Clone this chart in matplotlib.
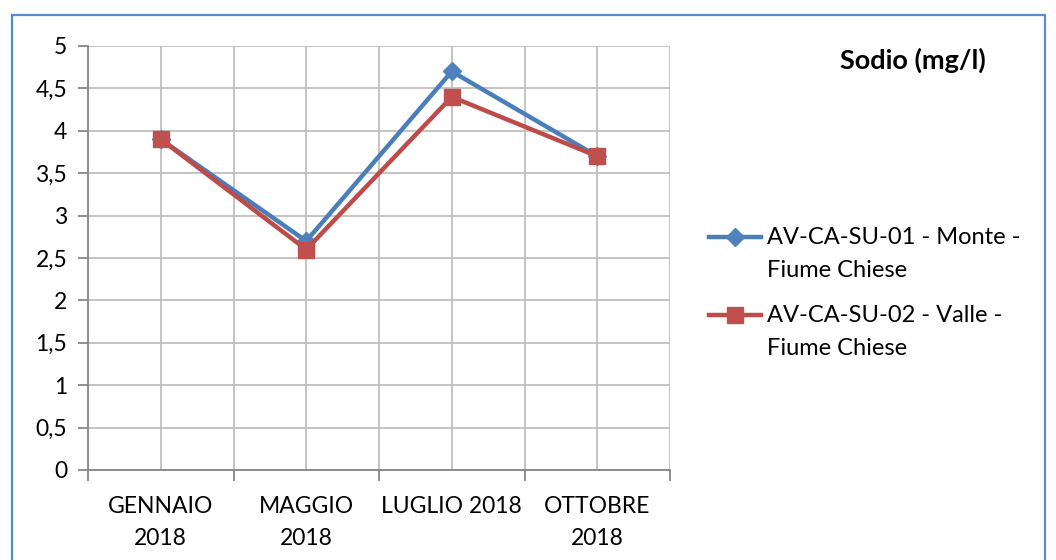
import matplotlib.pyplot as plt
from matplotlib.patches import Rectangle
from matplotlib.ticker import FixedLocator
from matplotlib.legend_handler import HandlerLine2D
from matplotlib.transforms import Affine2D

plt.rcParams['font.family'] = ['Lato', 'DejaVu Sans']

# data
categories = ['GENNAIO\n2018', 'MAGGIO\n2018', 'LUGLIO 2018', 'OTTOBRE\n2018']
monte = [3.9, 2.7, 4.7, 3.7]
valle = [3.9, 2.6, 4.4, 3.7]
y_ticks = [0, 0.5, 1, 1.5, 2, 2.5, 3, 3.5, 4, 4.5, 5]
y_labels = ['0', '0,5', '1', '1,5', '2', '2,5', '3', '3,5', '4', '4,5', '5']
label_monte = 'AV-CA-SU-01 - Monte -\nFiume Chiese'
label_valle = 'AV-CA-SU-02 - Valle -\nFiume Chiese'
title = 'Sodio (mg/l)'


# legend marker next to the first text line instead of centered
class RaisedLine(HandlerLine2D):
    def create_artists(self, legend, orig_handle, xdescent, ydescent,
                       width, height, fontsize, trans):
        trans = Affine2D().translate(0, 0.74 * fontsize) + trans
        return super().create_artists(legend, orig_handle, xdescent, ydescent,
                                      width, height, fontsize, trans)


W, H = 1056, 560
fig = plt.figure(figsize=(W / 100, H / 100), dpi=100)

# outer chart frame
fig.patches.append(Rectangle((12 / W, -0.05), 1033 / W, 1 - 15 / H + 0.05,
                             transform=fig.transFigure, fill=False,
                             edgecolor='#5b8bc9', linewidth=1.6))

ax = fig.add_axes([88 / W, 1 - 470 / H, 582 / W, 424 / H])
x = list(range(len(categories)))

l1, = ax.plot(x, monte, color='#4a7ebb', linewidth=3.2, marker='D', markersize=9,
              markerfacecolor='#4f81bd', markeredgecolor='#4f81bd', label=label_monte, zorder=3)
l2, = ax.plot(x, valle, color='#be4b48', linewidth=3.2, marker='s', markersize=12,
              markerfacecolor='#c0504d', markeredgecolor='#c0504d', label=label_valle, zorder=4)

ax.set_xlim(-0.5, len(categories) - 0.5)
ax.set_ylim(0, 5)
ax.set_yticks(y_ticks)
ax.set_yticklabels(y_labels)
ax.set_xticks(x)
ax.set_xticklabels(categories, linespacing=1.6, va='top')
ax.xaxis.set_minor_locator(FixedLocator([i - 0.5 for i in range(len(categories) + 1)]))

ax.tick_params(axis='x', which='major', length=0, pad=19, labelsize=16.5)
ax.tick_params(axis='x', which='minor', length=8, width=1.3, color='#868686', direction='out')
ax.tick_params(axis='y', length=7, width=1.3, color='#868686', pad=8, labelsize=16.5)

ax.grid(True, which='major', color='#bfbfbf', linewidth=1.3)
ax.grid(True, which='minor', axis='x', color='#bfbfbf', linewidth=1.3)
ax.set_axisbelow(True)

for side in ['top', 'right']:
    ax.spines[side].set_visible(False)
for side in ['left', 'bottom']:
    ax.spines[side].set_color('#868686')
    ax.spines[side].set_linewidth(1.3)

fig.text(913 / W, 1 - 60 / H, title, ha='center', va='center',
         fontsize=19.5, fontweight='bold')

hmap = {l1: RaisedLine(), l2: RaisedLine()}
leg = fig.legend(handles=[l1, l2], loc='upper left', bbox_to_anchor=(700 / W, 1 - 218 / H),
                 frameon=False, fontsize=17, handlelength=2.2, handletextpad=0.25,
                 labelspacing=1.0, borderaxespad=0, handler_map=hmap)
for t in leg.get_texts():
    t.set_linespacing(1.7)

fig.savefig('out.png', dpi=100)
